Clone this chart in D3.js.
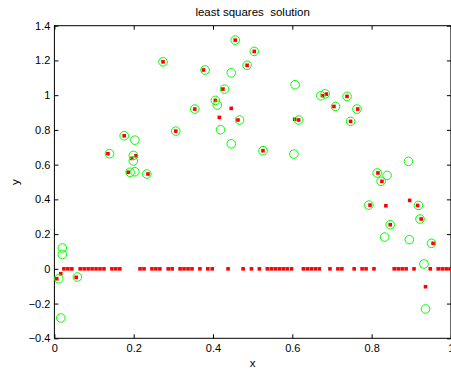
<!DOCTYPE html>
<html>
<head>
<meta charset="utf-8">
<script src="https://cdn.jsdelivr.net/npm/d3@7"></script>
<style>
  body { margin: 0; background: #fff; }
  text { font-family: "Liberation Sans", Arial, Helvetica, sans-serif; }
</style>
</head>
<body>
<script>
// measured data (green circles)
var dataX = [0.274, 0.306, 0.176, 0.203, 0.139, 0.199, 0.199, 0.191, 0.203, 0.233,
             0.456, 0.504, 0.486, 0.380, 0.446, 0.607, 0.429, 0.672, 0.683, 0.406,
             0.411, 0.354, 0.467, 0.616, 0.419, 0.446, 0.526, 0.604, 0.738, 0.709,
             0.763, 0.747, 0.893, 0.814, 0.839, 0.824, 0.793, 0.918, 0.922, 0.847,
             0.833, 0.895, 0.951, 0.932, 0.936, 0.020, 0.020, 0.011, 0.058, 0.016];
var dataY = [1.192, 0.793, 0.766, 0.741, 0.663, 0.653, 0.621, 0.556, 0.559, 0.546,
             1.317, 1.252, 1.172, 1.145, 1.129, 1.060, 1.035, 0.997, 1.008, 0.970,
             0.943, 0.920, 0.857, 0.857, 0.801, 0.720, 0.680, 0.661, 0.993, 0.935,
             0.920, 0.849, 0.619, 0.552, 0.538, 0.504, 0.367, 0.365, 0.287, 0.254,
             0.183, 0.168, 0.147, 0.028, -0.231, 0.120, 0.083, -0.057, -0.047, -0.283];

// least squares solution, nonzero part (red squares)
var solX = [0.274, 0.306, 0.176, 0.135, 0.206, 0.195, 0.186, 0.236, 0.456, 0.504,
            0.486, 0.376, 0.425, 0.676, 0.686, 0.406, 0.354, 0.463, 0.616, 0.606,
            0.526, 0.738, 0.705, 0.765, 0.747, 0.816, 0.826, 0.796, 0.916, 0.925,
            0.847, 0.955, 0.446, 0.416, 0.836, 0.896, 0.936, 0.016, 0.006, 0.055];
var solY = [1.192, 0.793, 0.766, 0.663, 0.651, 0.636, 0.556, 0.546, 1.317, 1.252,
            1.172, 1.145, 1.035, 0.997, 1.006, 0.970, 0.920, 0.857, 0.857, 0.861,
            0.680, 0.993, 0.935, 0.920, 0.849, 0.552, 0.504, 0.367, 0.365, 0.287,
            0.254, 0.147, 0.924, 0.872, 0.363, 0.394, -0.103, -0.028, -0.057, -0.049];

// solution entries that are exactly zero
var zeroX = [0.024, 0.034, 0.044, 0.065, 0.075, 0.085, 0.095, 0.105, 0.115, 0.125,
             0.145, 0.155, 0.165, 0.216, 0.226, 0.246, 0.256, 0.266, 0.287, 0.297,
             0.317, 0.327, 0.337, 0.347, 0.367, 0.387, 0.398, 0.438, 0.476, 0.497,
             0.517, 0.537, 0.547, 0.557, 0.567, 0.577, 0.587, 0.598, 0.628, 0.638,
             0.648, 0.658, 0.668, 0.695, 0.715, 0.725, 0.756, 0.776, 0.786, 0.806,
             0.857, 0.867, 0.877, 0.887, 0.907, 0.948, 0.968, 0.978, 0.988, 0.998];

var xTicks = [0, 0.2, 0.4, 0.6, 0.8, 1];
var yTicks = [-0.4, -0.2, 0, 0.2, 0.4, 0.6, 0.8, 1, 1.2, 1.4];

(function () {
    var width = 451, height = 373;
    var pl = 54.4, pr = 450.9, pt = 25.7, pb = 338.3;

    var svg = d3.select("body").append("svg")
        .attr("width", width)
        .attr("height", height);

    var x = d3.scaleLinear().domain([0, 1]).range([pl, pr]);
    var y = d3.scaleLinear().domain([-0.4, 1.4]).range([pb, pt]);

    var fmt = function (d) {
        var s = String(+d.toFixed(1));
        return s.replace("-", "\u2212");
    };

    // axes, ticks pointing inward like matlab
    svg.append("g")
        .attr("transform", "translate(0," + pb + ")")
        .call(d3.axisBottom(x).tickValues(xTicks).tickFormat(fmt).tickSize(-4).tickSizeOuter(0).tickPadding(6));
    svg.append("g")
        .attr("transform", "translate(0," + pt + ")")
        .call(d3.axisTop(x).tickValues(xTicks).tickFormat("").tickSize(-4).tickSizeOuter(0));
    svg.append("g")
        .attr("transform", "translate(" + pl + ",0)")
        .call(d3.axisLeft(y).tickValues(yTicks).tickFormat(fmt).tickSize(-4).tickSizeOuter(0).tickPadding(4));
    svg.append("g")
        .attr("transform", "translate(" + pr + ",0)")
        .call(d3.axisRight(y).tickValues(yTicks).tickFormat("").tickSize(-4).tickSizeOuter(0));

    svg.selectAll(".domain").remove();
    svg.selectAll(".tick line").attr("stroke", "#000");
    svg.selectAll(".tick text")
        .attr("fill", "#000")
        .style("font-size", "11px")
        .style("font-family", "'Liberation Sans', Arial, sans-serif");

    svg.append("rect")
        .attr("x", pl).attr("y", pt)
        .attr("width", pr - pl).attr("height", pb - pt)
        .attr("fill", "none")
        .attr("stroke", "#000")
        .attr("stroke-width", 1);

    // red squares
    var sq = 3.6;
    var reds = solX.map((d, i) => [d, solY[i]]).concat(zeroX.map(d => [d, 0]));
    svg.append("g")
        .attr("fill", "#ff0000")
        .selectAll("rect")
        .data(reds)
        .join("rect")
        .attr("x", d => x(d[0]) - sq / 2)
        .attr("y", d => y(d[1]) - sq / 2)
        .attr("width", sq)
        .attr("height", sq);

    // green circles
    svg.append("g")
        .attr("fill", "none")
        .attr("stroke", "#00ff00")
        .attr("stroke-width", 1)
        .selectAll("circle")
        .data(dataX.map((d, i) => [d, dataY[i]]))
        .join("circle")
        .attr("cx", d => x(d[0]))
        .attr("cy", d => y(d[1]))
        .attr("r", 4.3);

    svg.append("text")
        .attr("x", (pl + pr) / 2)
        .attr("y", 16)
        .attr("text-anchor", "middle")
        .style("font-size", "11.5px")
        .style("white-space", "pre")
        .text("least squares  solution");

    svg.append("text")
        .attr("x", (pl + pr) / 2)
        .attr("y", 366.5)
        .attr("text-anchor", "middle")
        .style("font-size", "11.5px")
        .text("x");

    svg.append("text")
        .attr("transform", "translate(19," + ((pt + pb) / 2) + ") rotate(-90)")
        .attr("text-anchor", "middle")
        .style("font-size", "11.5px")
        .text("y");
})();
</script>
</body>
</html>
